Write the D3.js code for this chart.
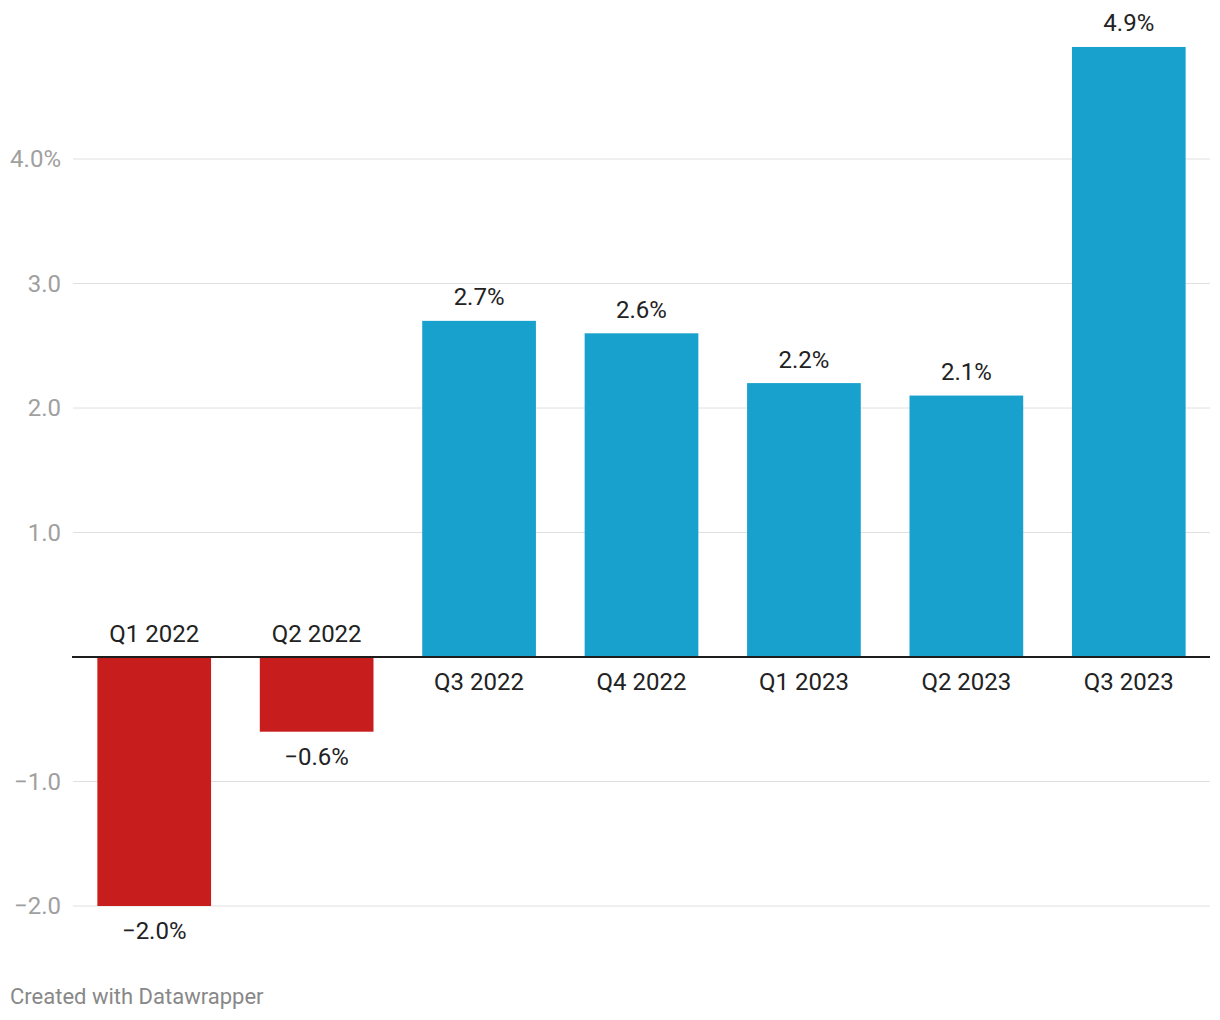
<!DOCTYPE html>
<html>
<head>
<meta charset="utf-8">
<script src="https://cdn.jsdelivr.net/npm/d3@7"></script>
<style>
  html, body { margin: 0; padding: 0; background: #fff; }
  svg { display: block; font-family: Roboto, sans-serif; }
</style>
</head>
<body>
<svg id="chart" width="1220" height="1020"></svg>
<script>
const categories = ["Q1 2022", "Q2 2022", "Q3 2022", "Q4 2022", "Q1 2023", "Q2 2023", "Q3 2023"];
const values = [-2.0, -0.6, 2.7, 2.6, 2.2, 2.1, 4.9];
const tickValues = [-2, -1, 1, 2, 3, 4];
const tickLabels = ["−2.0", "−1.0", "1.0", "2.0", "3.0", "4.0%"];
const valueLabels = ["−2.0%", "−0.6%", "2.7%", "2.6%", "2.2%", "2.1%", "4.9%"];

const svg = d3.select("#chart");
const x = d3.scaleBand().domain(categories).range([73, 1210]).paddingInner(0.3).paddingOuter(0.15);
const y = d3.scaleLinear().domain([-2, 4]).range([906, 159]);

// gridlines
const grid = svg.append("g");
grid.selectAll("line").data(tickValues).join("line")
  .attr("x1", 73).attr("x2", 1210)
  .attr("y1", d => y(d)).attr("y2", d => y(d))
  .attr("stroke", "#e0e0e0").attr("stroke-width", 1);
grid.selectAll("text").data(tickValues).join("text")
  .attr("x", 61).attr("y", d => y(d)).attr("dy", "0.35em")
  .attr("text-anchor", "end")
  .attr("font-size", 24).attr("fill", "#a0a0a0")
  .text((d, i) => tickLabels[i]);

// bars
const data = categories.map((c, i) => ({c, v: values[i], label: valueLabels[i]}));
svg.append("g").selectAll("rect").data(data).join("rect")
  .attr("x", d => x(d.c)).attr("width", x.bandwidth())
  .attr("y", d => y(Math.max(0, d.v)))
  .attr("height", d => Math.abs(y(d.v) - y(0)))
  .attr("fill", d => d.v < 0 ? "#c71e1d" : "#18a1cd");

// zero line
svg.append("line")
  .attr("x1", 72).attr("x2", 1210)
  .attr("y1", y(0)).attr("y2", y(0))
  .attr("stroke", "#1d1d1d").attr("stroke-width", 2);

// value labels
svg.append("g").selectAll("text").data(data).join("text")
  .attr("x", d => x(d.c) + x.bandwidth() / 2)
  .attr("y", d => d.v >= 0 ? y(d.v) - 24 : y(d.v) + 25)
  .attr("dy", "0.35em")
  .attr("text-anchor", "middle")
  .attr("font-size", 24).attr("fill", "#222")
  .text(d => d.label);

// category labels
svg.append("g").selectAll("text").data(data).join("text")
  .attr("x", d => x(d.c) + x.bandwidth() / 2)
  .attr("y", d => d.v >= 0 ? y(0) + 25 : y(0) - 23)
  .attr("dy", "0.35em")
  .attr("text-anchor", "middle")
  .attr("font-size", 24).attr("fill", "#222")
  .text(d => d.c);

// footer
svg.append("text")
  .attr("x", 10).attr("y", 1004)
  .attr("font-size", 22).attr("fill", "#888")
  .text("Created with Datawrapper");
</script>
</body>
</html>
